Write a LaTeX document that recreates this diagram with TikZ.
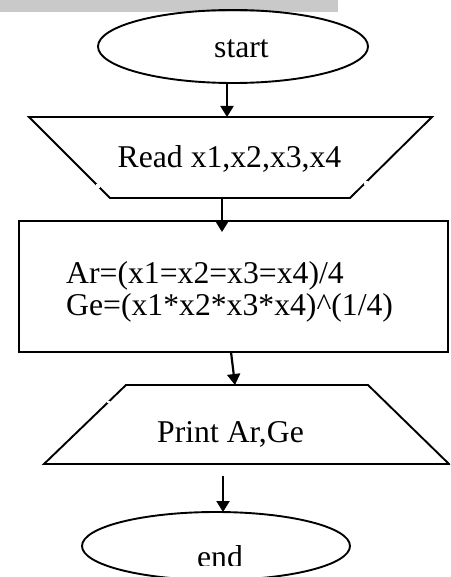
\documentclass[tikz,border=0pt]{standalone}
\usepackage{fontspec}
\setmainfont{Liberation Serif}
\usetikzlibrary{arrows.meta,shapes.geometric}
\begin{document}
\begin{tikzpicture}[x=1pt,y=-1pt,
  shapeline/.style={line width=1.9pt, line join=miter},
  flow/.style={line width=2.2pt, -{Triangle[length=11pt,width=13pt]}},
  txt/.style={inner sep=0pt, font=\fontsize{31.7}{38}\selectfont},
  oval/.style={draw, shapeline, ellipse, inner sep=0pt},
  gap/.style={fill=white}]
\useasboundingbox (0,0) rectangle (450,577);
\clip (0,0) rectangle (450,577);
% grey bar at the top
\fill[black!21] (0,0) rectangle (338,12.3);
% start
\node[oval, minimum width=270pt, minimum height=73pt] (startshape) at (233,46.5) {};
\node[txt, anchor=base] (starttext) at (241.5,58) {start};
% read
\draw[shapeline] (29,117) -- (432,117) -- (350,198) -- (110,198) -- cycle;
\fill[gap] (96.2,184.2) rectangle (99.8,187.8);
\fill[gap] (364.2,181.2) rectangle (367.8,184.8);
\node[txt, anchor=base] (readtext) at (229.5,168) {Read x1,x2,x3,x4};
% process
\draw[shapeline] (19,221) rectangle (448,352);
\node[txt, anchor=base west] (artext) at (66,283) {Ar=(x1=x2=x3=x4)/4};
\node[txt, anchor=base west] (getext) at (66,315) {Ge=(x1*x2*x3*x4)\textasciicircum(1/4)};
% print
\draw[shapeline] (126,385) -- (368,385) -- (449,464) -- (44,464) -- cycle;
\fill[gap] (107.3,400.8) rectangle (109.7,403.2);
\node[txt, anchor=base] (printtext) at (230.5,442) {Print Ar,Ge};
% end
\node[oval, minimum width=268pt, minimum height=68pt] (endshape) at (216,546) {};
\begin{scope}
  \clip (0,0) rectangle (450,565);
  \node[txt, anchor=base] (endtext) at (220,567) {end};
\end{scope}
% connector end points
\coordinate (a1s) at (227,83);  \coordinate (a1e) at (227,117);
\coordinate (a2s) at (222,198); \coordinate (a2e) at (222,232);
\coordinate (a3s) at (231,352); \coordinate (a3e) at (235,385);
\coordinate (a4s) at (223,476); \coordinate (a4e) at (223,512);
\draw[flow] (a1s) -- (a1e);
\draw[flow] (a2s) -- (a2e);
\draw[flow] (a3s) -- (a3e);
\draw[flow] (a4s) -- (a4e);
\end{tikzpicture}
\end{document}
